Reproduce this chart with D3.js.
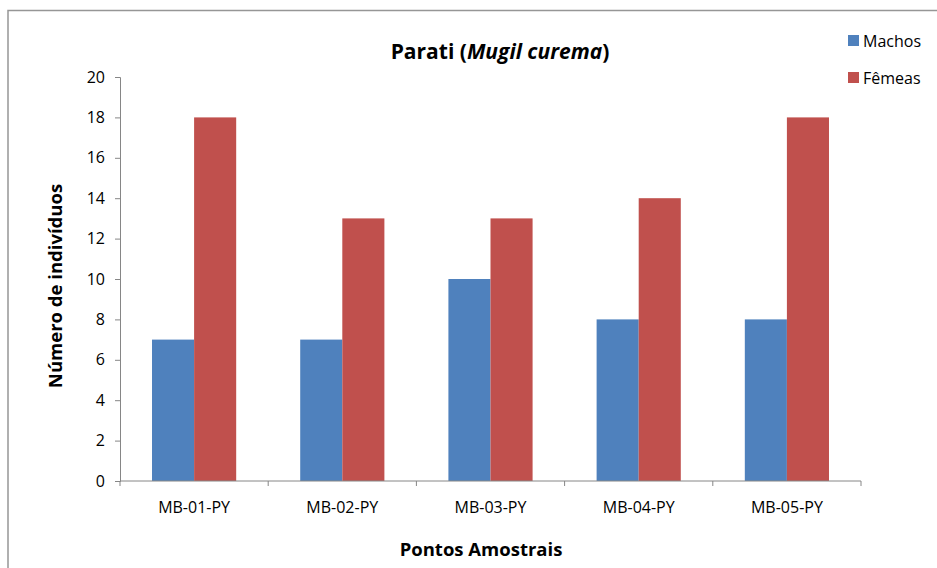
<!DOCTYPE html>
<html><head><meta charset="utf-8">
<script src="https://cdn.jsdelivr.net/npm/d3@7"></script>
<style>body{margin:0;background:#fff}svg{display:block}text{font-family:"Open Sans","Liberation Sans",sans-serif}</style>
</head><body>
<script>
const categories = ["MB-01-PY","MB-02-PY","MB-03-PY","MB-04-PY","MB-05-PY"];
const seriesNames = ["Machos","Fêmeas"];
const machos = [7,7,10,8,8];
const femeas = [18,13,13,14,18];
const yTicks = [0,2,4,6,8,10,12,14,16,18,20];
const colors = ["#4F81BD","#C0504D"];

const W=937,H=568;
const svg=d3.select("body").append("svg").attr("width",W).attr("height",H);
svg.append("rect").attr("x",8).attr("y",10.5).attr("width",1000).attr("height",1000)
  .attr("fill","none").attr("stroke","#969696").attr("stroke-width",1.5);

const m={l:120,r:861,t:77,b:481};
const x=d3.scaleBand().domain(categories).range([m.l,m.r]).paddingInner(0.432).paddingOuter(0.216);
const xs=d3.scaleBand().domain(seriesNames).range([0,x.bandwidth()]);
const y=d3.scaleLinear().domain([0,20]).range([m.b,m.t]);

const data=[machos,femeas];
seriesNames.forEach((s,si)=>{
  svg.append("g").selectAll("rect").data(categories).join("rect")
    .attr("x",c=>x(c)+xs(s)).attr("width",xs.bandwidth())
    .attr("y",(c,i)=>y(data[si][i])).attr("height",(c,i)=>y(0)-y(data[si][i]))
    .attr("fill",colors[si]);
});

// y axis
const ya=svg.append("g").attr("transform",`translate(${m.l},0)`)
  .call(d3.axisLeft(y).tickValues(yTicks).tickSize(5).tickPadding(10));
ya.select(".domain").attr("stroke","#868686");
ya.selectAll(".tick line").attr("stroke","#868686");
ya.selectAll("text").attr("font-size",16).attr("fill","#000").attr("font-family","'Open Sans',sans-serif");

// x axis
const xa=svg.append("g").attr("transform",`translate(0,${m.b})`);
xa.append("line").attr("x1",m.l).attr("x2",m.r).attr("stroke","#868686");
const bounds=d3.range(categories.length+1).map(i=>m.l+i*(m.r-m.l)/categories.length);
xa.selectAll("line.t").data(bounds).join("line").attr("class","t")
  .attr("x1",d=>d).attr("x2",d=>d).attr("y1",0).attr("y2",5).attr("stroke","#868686");
xa.selectAll("text").data(categories).join("text")
  .attr("x",c=>x(c)+x.bandwidth()/2).attr("y",32).attr("text-anchor","middle")
  .attr("font-size",16).attr("fill","#000").text(c=>c);

// titles
const t=svg.append("text").attr("x",500).attr("y",59).attr("text-anchor","middle")
  .attr("font-size",21).attr("font-weight","bold");
t.append("tspan").text("Parati (");
t.append("tspan").attr("font-style","italic").text("Mugil curema");
t.append("tspan").text(")");

svg.append("text").attr("x",481).attr("y",556).attr("text-anchor","middle")
  .attr("font-size",18.5).attr("font-weight","bold").text("Pontos Amostrais");
svg.append("text").attr("transform","translate(62,286) rotate(-90)").attr("text-anchor","middle")
  .attr("font-size",18.5).attr("font-weight","bold").text("Número de indivíduos");

// legend
const lg=svg.append("g");
seriesNames.forEach((s,i)=>{
  const yy=35+i*37;
  lg.append("rect").attr("x",848).attr("y",yy).attr("width",11).attr("height",11).attr("fill",colors[i]);
  lg.append("text").attr("x",863).attr("y",yy+12).attr("font-size",16).attr("fill","#000").text(s);
});
</script>
</body></html>
